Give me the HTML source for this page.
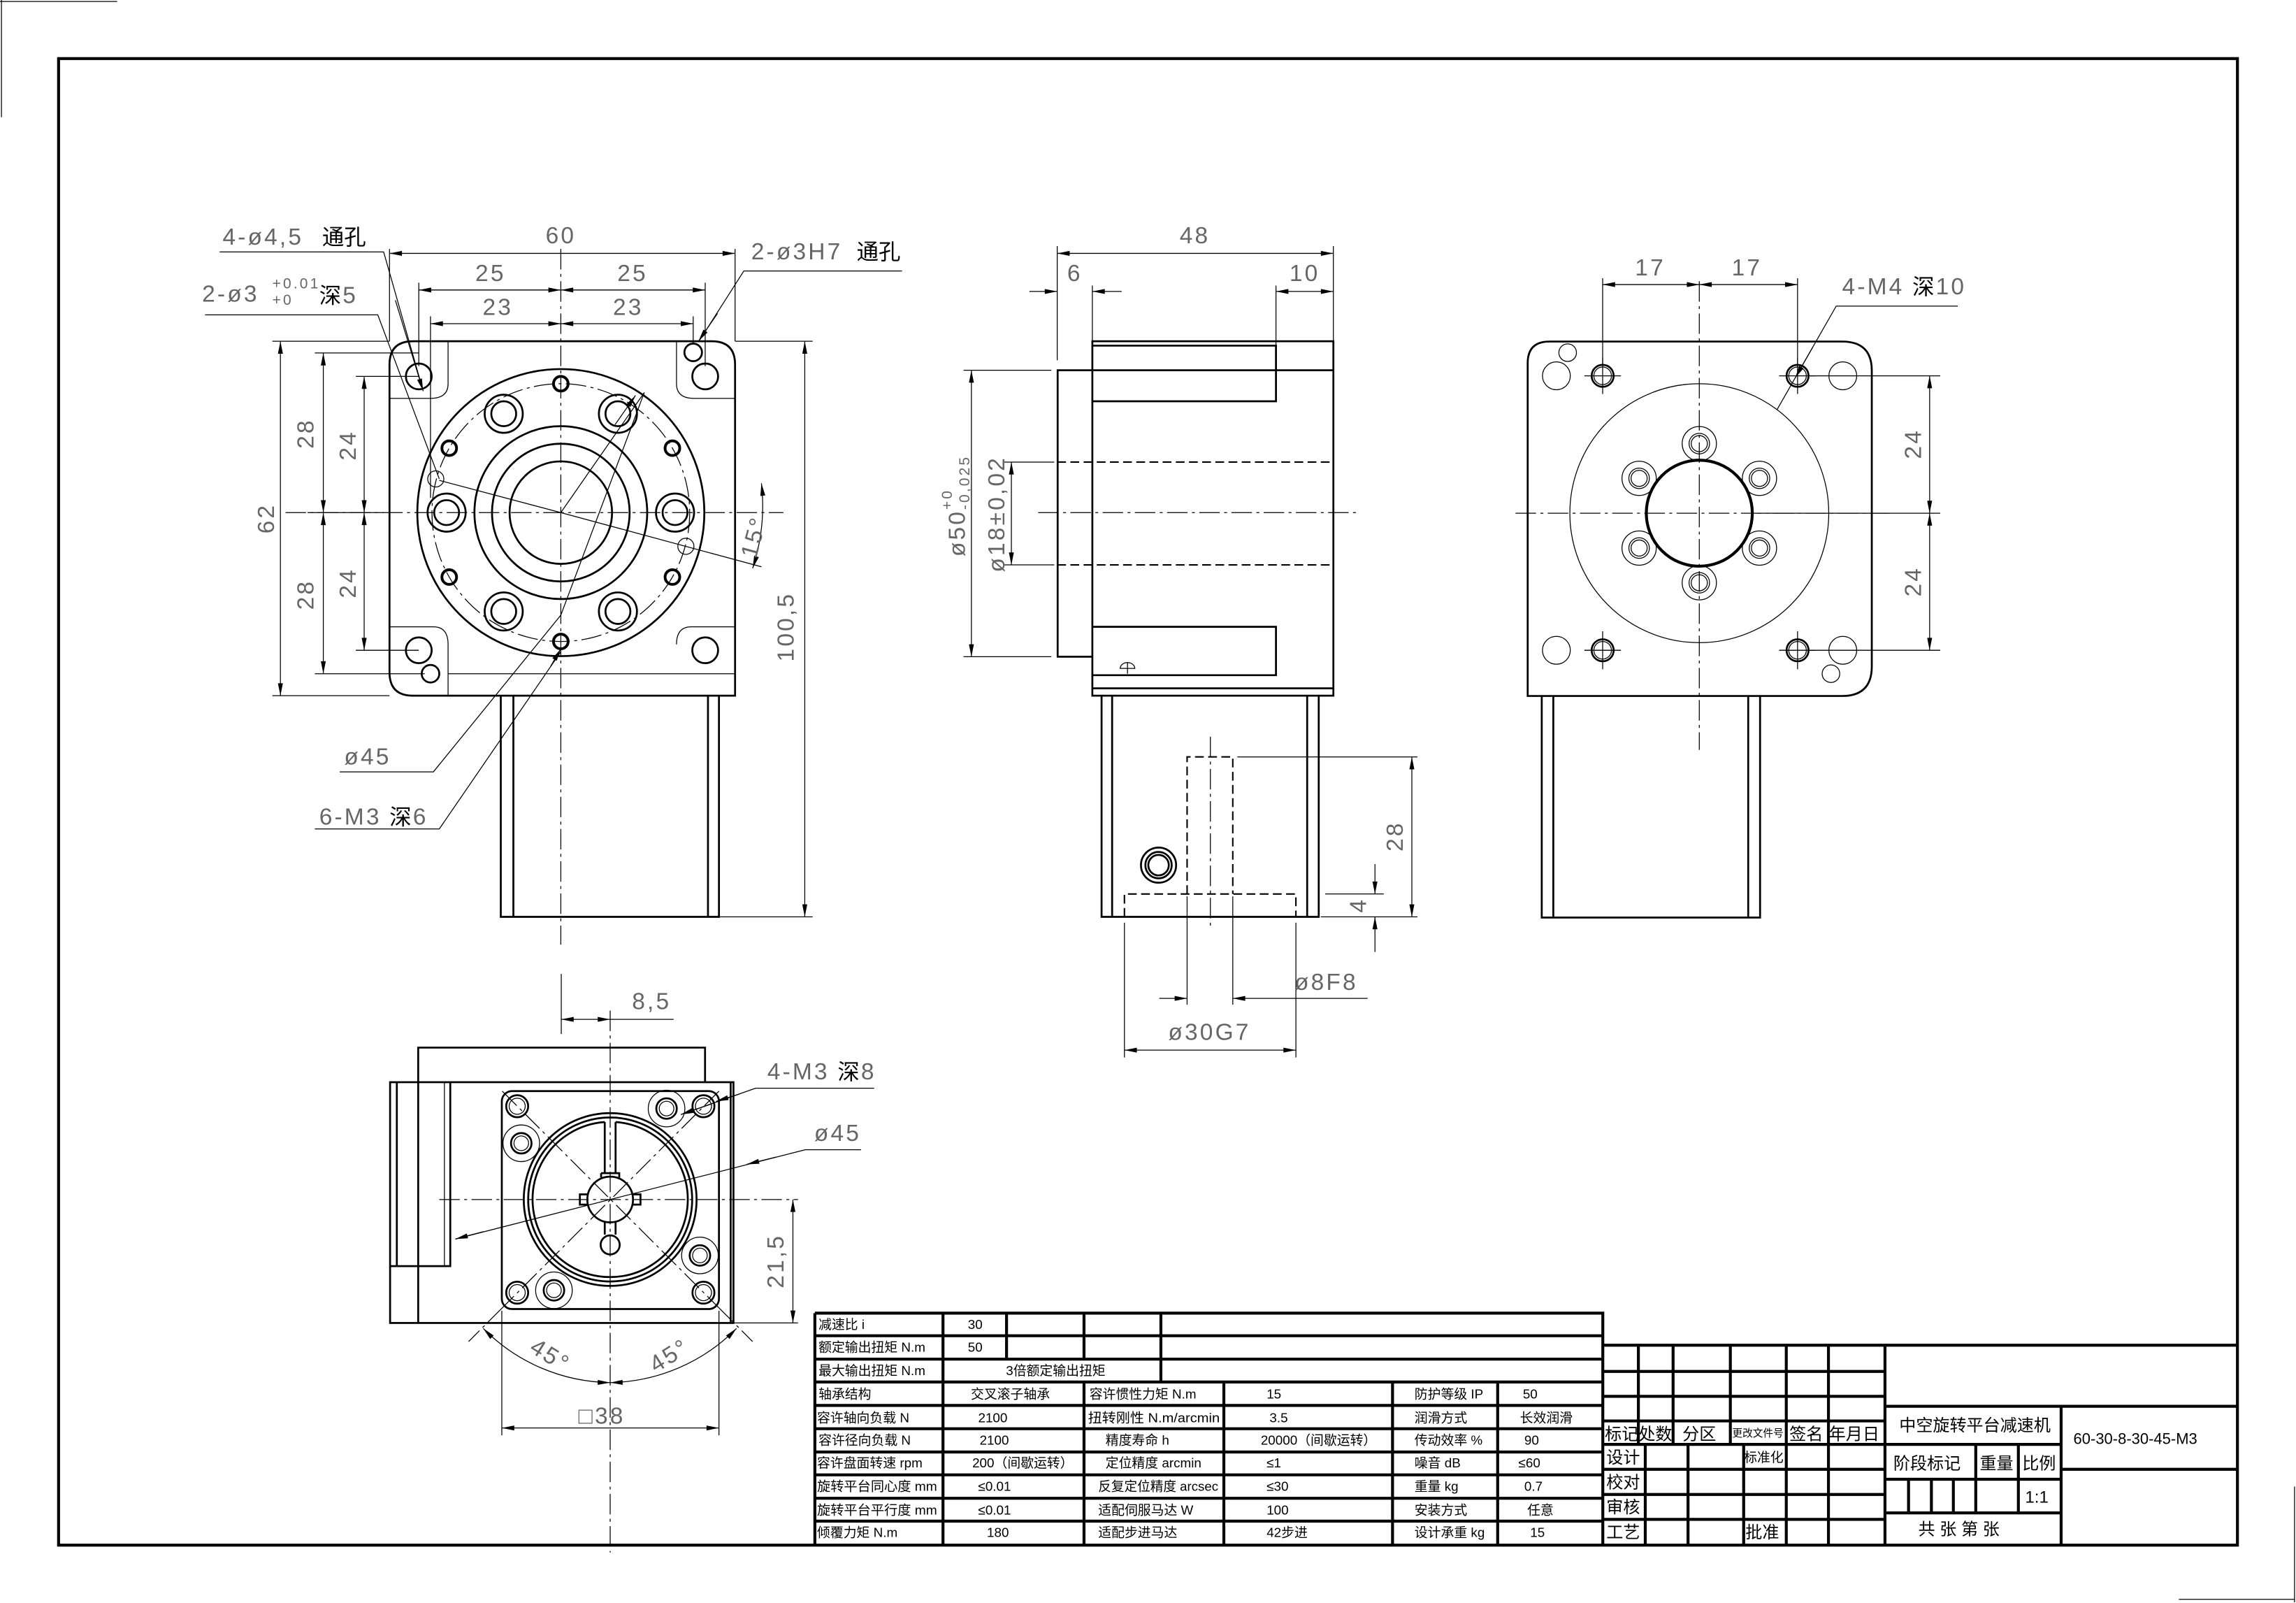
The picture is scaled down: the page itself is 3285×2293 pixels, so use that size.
<!DOCTYPE html>
<html><head><meta charset="utf-8"><style>
html,body{margin:0;padding:0;background:#fff}
svg{display:block}
.k{stroke:#000;fill:none;stroke-width:1.3}
.t{stroke:#000;fill:none;stroke-width:0.6}
.c{stroke:#000;fill:none;stroke-width:0.6;stroke-dasharray:14 3 2 3}
.h{stroke:#000;fill:none;stroke-width:1;stroke-dasharray:6 3}
.b{stroke:#000;fill:none;stroke-width:2}
.d{font-family:"Liberation Sans","Noto Sans CJK SC",sans-serif;font-size:16px;fill:#666;letter-spacing:1.5px}
.z{font-family:"Liberation Sans","Noto Sans CJK SC",sans-serif;font-size:15px;fill:#000}
.s{font-family:"Liberation Sans","Noto Sans CJK SC",sans-serif;font-size:9px;fill:#000}
.m{font-family:"Liberation Sans","Noto Sans CJK SC",sans-serif;font-size:11.5px;fill:#000}
</style></head><body>
<svg width="3285" height="2293" viewBox="0 0 1568 1094.5" xmlns="http://www.w3.org/2000/svg">
<defs><marker id="a" viewBox="0 0 10 4" refX="10" refY="2" markerWidth="10" markerHeight="3.4" markerUnits="userSpaceOnUse" orient="auto-start-reverse"><path d="M0,0L10,2L0,4z" fill="#000"/></marker></defs>
<rect width="1568" height="1094.5" fill="#fff"/>
<path class="t" d="M1,0V80M0,1H80M1488,1092H1567M1567,1015V1094"/>
<rect x="40" y="40" width="1488" height="1015" class="b"/>

<!-- FRONT VIEW -->
<path class="k" d="M282,233H486Q502,233 502,249V475H282Q266,475 266,459V249Q266,233 282,233Z"/>
<path class="t" d="M306,233V262Q306,272 294,272H266M462,233V262Q462,272 474,272H502M266,428H296Q306,428 306,440V475M306,460H502M502,428H472Q462,428 462,440"/>
<g class="k">
<circle cx="286" cy="257" r="8.8"/><circle cx="481.6" cy="257" r="8.8"/><circle cx="286" cy="444" r="8.8"/><circle cx="481.6" cy="444" r="8.8"/>
<circle cx="473.4" cy="240.6" r="6"/><circle cx="294" cy="460" r="6"/>
<circle cx="383" cy="350" r="98"/><circle cx="383" cy="350" r="59"/><circle cx="383" cy="350" r="47"/><circle cx="383" cy="350" r="35"/>
<circle cx="461" cy="350" r="13"/><circle cx="461" cy="350" r="8.5"/>
<circle cx="422" cy="282.5" r="13"/><circle cx="422" cy="282.5" r="8.5"/>
<circle cx="344" cy="282.5" r="13"/><circle cx="344" cy="282.5" r="8.5"/>
<circle cx="305" cy="350" r="13"/><circle cx="305" cy="350" r="8.5"/>
<circle cx="344" cy="417.5" r="13"/><circle cx="344" cy="417.5" r="8.5"/>
<circle cx="422" cy="417.5" r="13"/><circle cx="422" cy="417.5" r="8.5"/>
<circle cx="297.6" cy="327" r="5.5" class="t"/><circle cx="468.4" cy="373" r="5.5" class="t"/>
</g>
<g class="k" style="stroke-width:1.9">
<circle cx="459.2" cy="306" r="5"/><circle cx="383" cy="262" r="5"/><circle cx="306.8" cy="306" r="5"/><circle cx="306.8" cy="394" r="5"/><circle cx="383" cy="438" r="5"/><circle cx="459.2" cy="394" r="5"/>
</g>
<circle cx="383" cy="350" r="88" class="c"/>
<path class="k" d="M342,475V626H491V475M350.6,475V626M483.5,475V626"/>
<path class="c" d="M383,170V645M195,350H535"/>
<path class="t" d="M383,350L300,328M383,350L520,387M383,350L440,268"/>
<path class="t" d="M266,170V233M502,170V233M286,193V250M481.6,193V250M294,216V340M473.4,216V235"/>
<path class="t" marker-start="url(#a)" marker-end="url(#a)" d="M266,173H502"/>
<path class="t" marker-start="url(#a)" marker-end="url(#a)" d="M286,198H383"/>
<path class="t" marker-start="url(#a)" marker-end="url(#a)" d="M383,198H481.6"/>
<path class="t" marker-start="url(#a)" marker-end="url(#a)" d="M294,221H383"/>
<path class="t" marker-start="url(#a)" marker-end="url(#a)" d="M383,221H473.4"/>
<text class="d" x="383" y="166" text-anchor="middle">60</text>
<text class="d" x="335" y="192" text-anchor="middle">25</text>
<text class="d" x="432" y="192" text-anchor="middle">25</text>
<text class="d" x="340" y="215" text-anchor="middle">23</text>
<text class="d" x="429" y="215" text-anchor="middle">23</text>
<path class="t" d="M186,233H266M215,241H286M243,257H286M215,460H290M243,444H286M186,475H266M210,350H262M502,233H555M491,626H555"/>
<path class="t" marker-start="url(#a)" marker-end="url(#a)" d="M191.5,233V475"/>
<path class="t" marker-start="url(#a)" marker-end="url(#a)" d="M220.8,241V350"/>
<path class="t" marker-start="url(#a)" marker-end="url(#a)" d="M220.8,350V460"/>
<path class="t" marker-start="url(#a)" marker-end="url(#a)" d="M248.7,257V350"/>
<path class="t" marker-start="url(#a)" marker-end="url(#a)" d="M248.7,350V444"/>
<path class="t" marker-start="url(#a)" marker-end="url(#a)" d="M549.6,233V626"/>
<text class="d" transform="translate(187,354) rotate(-90)" text-anchor="middle">62</text>
<text class="d" transform="translate(214,296) rotate(-90)" text-anchor="middle">28</text>
<text class="d" transform="translate(214,406) rotate(-90)" text-anchor="middle">28</text>
<text class="d" transform="translate(243,304) rotate(-90)" text-anchor="middle">24</text>
<text class="d" transform="translate(243,398) rotate(-90)" text-anchor="middle">24</text>
<text class="d" transform="translate(542,428) rotate(-90)" text-anchor="middle">100,5</text>
<path class="t" marker-start="url(#a)" marker-end="url(#a)" d="M520,330A137,137 0 0 1 514,388"/>
<text class="d" transform="translate(520,368) rotate(-75)" text-anchor="middle">15°</text>
<path class="t" d="M150,172H262L289,267"/><path class="t" marker-end="url(#a)" d="M270,205L289,267"/>
<text class="d" x="152" y="167">4-ø4,5</text><text class="z" x="220" y="167">通孔</text>
<path class="t" d="M140,215H258L300,327"/>
<text class="d" x="138" y="206">2-ø3</text><text class="d" x="186" y="197" style="font-size:10px">+0.01</text><text class="d" x="186" y="208" style="font-size:10px">+0</text><text class="z" x="218" y="207">深</text><text class="d" x="234" y="207">5</text>
<path class="t" d="M616,185H508L478,232"/><path class="t" marker-end="url(#a)" d="M490,214L477,233"/>
<text class="d" x="513" y="177">2-ø3H7</text><text class="z" x="585" y="177">通孔</text>
<path class="t" d="M232,527H296L383,420L440,268"/><path class="t" marker-end="url(#a)" d="M420,290L434,270"/>
<text class="d" x="235" y="522">ø45</text>
<path class="t" d="M215,566H300L383,445"/><path class="t" marker-end="url(#a)" d="M376,455L383,443"/>
<text class="d" x="218" y="563">6-M3</text><text class="z" x="266" y="563">深</text><text class="d" x="282" y="563">6</text>

<!-- SIDE VIEW -->
<rect x="746" y="233" width="164.6" height="242" class="k"/>
<path class="k" d="M746,252.8H722.3V448.4H746M746,252.8H910.6"/>
<path class="k" d="M746,236H871.4V274H746M746,428H871.4V461H746M746,470H910.6"/>
<path class="t" d="M871.4,233V240"/>
<path class="h" d="M722,315.5H910M722,385.7H910"/>
<path class="c" d="M709,350H927"/>
<path class="t" d="M765,456.4A5,4 0 0 1 775,456.4ZM770,452V460"/>
<path class="k" d="M752.3,475V626H900.6V475M759.5,475V626M892.7,475V626"/>
<path class="h" d="M810.7,610.4V516.8H841.9V610.4M767.9,626V610.4H885V626"/>
<path class="c" d="M826.6,503V632"/>
<circle cx="791.2" cy="590.7" r="12" class="k"/><circle cx="791.2" cy="590.7" r="9" class="k"/><circle cx="791.2" cy="590.7" r="7" class="k"/>
<path class="t" d="M722,168V246M746,195V233M871.4,195V233M910.6,168V233"/>
<path class="t" marker-start="url(#a)" marker-end="url(#a)" d="M722,173H910.6"/>
<path class="t" marker-end="url(#a)" d="M703,199H722"/><path class="t" marker-start="url(#a)" d="M746,199H766"/>
<path class="t" marker-start="url(#a)" marker-end="url(#a)" d="M871.4,199H910.6"/>
<text class="d" x="816" y="166" text-anchor="middle">48</text>
<text class="d" x="734" y="192" text-anchor="middle">6</text>
<text class="d" x="891" y="192" text-anchor="middle">10</text>
<path class="t" d="M658,252.8H718M658,448.4H718M685,315.5H720M685,385.7H720"/>
<path class="t" marker-start="url(#a)" marker-end="url(#a)" d="M663.4,252.8V448.4"/>
<path class="t" marker-start="url(#a)" marker-end="url(#a)" d="M690.7,315.5V385.7"/>
<text class="d" transform="translate(659,380) rotate(-90)">ø50</text>
<text class="d" transform="translate(662,348) rotate(-90)" style="font-size:10px">-0,025</text>
<text class="d" transform="translate(650,348) rotate(-90)" style="font-size:10px">+0</text>
<text class="d" transform="translate(686,351) rotate(-90)" text-anchor="middle">ø18±0,02</text>
<path class="t" d="M845,516.8H968M905,610.4H945M902,626H968"/>
<path class="t" marker-start="url(#a)" marker-end="url(#a)" d="M964.2,516.8V626"/>
<path class="t" marker-end="url(#a)" d="M939,590V610.4"/><path class="t" marker-start="url(#a)" d="M939,626V650"/>
<text class="d" transform="translate(958,571) rotate(-90)" text-anchor="middle">28</text>
<text class="d" transform="translate(933,618) rotate(-90)" text-anchor="middle">4</text>
<path class="t" d="M810.7,612V686M841.9,612V686M767.9,630V722M885,630V722"/>
<path class="t" marker-end="url(#a)" d="M791.7,681.7H810.7"/><path class="t" marker-start="url(#a)" d="M841.9,681.7H934"/>
<path class="t" marker-start="url(#a)" marker-end="url(#a)" d="M767.9,717H885"/>
<text class="d" x="884" y="676">ø8F8</text>
<text class="d" x="826" y="710" text-anchor="middle">ø30G7</text>

<!-- RIGHT VIEW -->
<path class="k" d="M1058,233.2H1258Q1278.3,233.2 1278.3,253V455Q1278.3,475.2 1258,475.2H1043.3V248Q1043.3,233.2 1058,233.2Z"/>
<circle cx="1160.5" cy="350.4" r="88.4" class="t"/>
<circle cx="1160.5" cy="350.4" r="36.2" class="k" style="stroke-width:2"/>
<g class="t">
<circle cx="1201.6" cy="326.6" r="11.7"/><circle cx="1201.6" cy="326.6" r="7"/><circle cx="1201.6" cy="326.6" r="5.5"/>
<circle cx="1160.5" cy="302.9" r="11.7"/><circle cx="1160.5" cy="302.9" r="7"/><circle cx="1160.5" cy="302.9" r="5.5"/>
<circle cx="1119.4" cy="326.6" r="11.7"/><circle cx="1119.4" cy="326.6" r="7"/><circle cx="1119.4" cy="326.6" r="5.5"/>
<circle cx="1119.4" cy="374.2" r="11.7"/><circle cx="1119.4" cy="374.2" r="7"/><circle cx="1119.4" cy="374.2" r="5.5"/>
<circle cx="1160.5" cy="397.9" r="11.7"/><circle cx="1160.5" cy="397.9" r="7"/><circle cx="1160.5" cy="397.9" r="5.5"/>
<circle cx="1201.6" cy="374.2" r="11.7"/><circle cx="1201.6" cy="374.2" r="7"/><circle cx="1201.6" cy="374.2" r="5.5"/>
</g>
<g class="k">
<circle cx="1094.5" cy="256.6" r="7.5"/><circle cx="1227.6" cy="256.6" r="7.5"/><circle cx="1094.5" cy="444" r="7.5"/><circle cx="1227.6" cy="444" r="7.5"/>
<circle cx="1062.9" cy="256.6" r="9.5" class="t"/><circle cx="1258.5" cy="256.6" r="9.5" class="t"/><circle cx="1062.9" cy="444" r="9.5" class="t"/><circle cx="1258.5" cy="444" r="9.5" class="t"/>
<circle cx="1070.6" cy="240.8" r="6" class="t"/><circle cx="1250.4" cy="460" r="6" class="t"/>
</g>
<g class="t"><circle cx="1094.5" cy="256.6" r="6"/><circle cx="1227.6" cy="256.6" r="6"/><circle cx="1094.5" cy="444" r="6"/><circle cx="1227.6" cy="444" r="6"/></g>
<path class="t" d="M1082,256.6H1107M1094.5,244V269M1082,444H1107M1094.5,431V457M1215,256.6H1240M1227.6,244V269M1215,444H1240M1227.6,431V457"/>
<path class="c" d="M1160.5,192V512M1035,350.4H1290"/>
<path class="k" d="M1052.9,475.2V626.5H1202V475.2M1060.8,475.2V626.5M1193.9,475.2V626.5"/>
<path class="t" d="M1094.5,190V250M1227.6,190V250M1235,256.6H1325M1235,444H1325M1200,350.4H1325"/>
<path class="t" marker-start="url(#a)" marker-end="url(#a)" d="M1094.5,194.3H1160.5"/>
<path class="t" marker-start="url(#a)" marker-end="url(#a)" d="M1160.5,194.3H1227.6"/>
<path class="t" marker-start="url(#a)" marker-end="url(#a)" d="M1317.8,256.6V350.4"/>
<path class="t" marker-start="url(#a)" marker-end="url(#a)" d="M1317.8,350.4V444"/>
<text class="d" x="1127" y="188" text-anchor="middle">17</text>
<text class="d" x="1193" y="188" text-anchor="middle">17</text>
<text class="d" transform="translate(1312,303) rotate(-90)" text-anchor="middle">24</text>
<text class="d" transform="translate(1312,397) rotate(-90)" text-anchor="middle">24</text>
<path class="t" d="M1337,209H1254L1213.7,279.5"/><path class="t" marker-end="url(#a)" d="M1238,237L1226,258"/>
<text class="d" x="1258" y="201">4-M4</text><text class="z" x="1306" y="201">深</text><text class="d" x="1322" y="201">10</text>

<!-- BOTTOM VIEW -->
<path class="k" d="M285.6,738.9V715.3H481.5V738.9"/>
<rect x="266.4" y="738.9" width="234.5" height="164.4" class="k"/>
<path class="k" d="M285.6,738.9V903.3M271,738.9V864.5H307.5V738.9M266.4,864.5H271M499,738.9V903.3"/>
<path class="t" d="M303.5,738.9V864.5"/>
<rect x="342.7" y="745" width="148.3" height="148.8" rx="7" class="k"/>
<circle cx="416.7" cy="819" r="59" class="k"/><circle cx="416.7" cy="819" r="56" class="k"/>
<path class="k" d="M413,766.1A53,53 0 1 0 420.4,766.1M413,766.1V801M420.4,766.1V801M410.5,801H422.9V804M410.5,801V804"/>
<circle cx="416.7" cy="819" r="15.6" class="k"/>
<path class="k" d="M401.1,815.5H396V822.5H401.1M432.3,815.5H437.4V822.5H432.3M413,834.6V843M420.4,834.6V843"/>
<circle cx="416.7" cy="850" r="6.5" class="k"/>
<g class="k">
<circle cx="353.2" cy="755.3" r="7.5"/><circle cx="480.4" cy="755.3" r="7.5"/><circle cx="353.2" cy="882.6" r="7.5"/><circle cx="480.4" cy="882.6" r="7.5"/>
<circle cx="455.2" cy="756.9" r="12.5" class="t"/><circle cx="455.2" cy="756.9" r="7"/><circle cx="455.2" cy="756.9" r="5" class="t"/>
<circle cx="356" cy="780.6" r="12.5" class="t"/><circle cx="356" cy="780.6" r="7"/><circle cx="356" cy="780.6" r="5" class="t"/>
<circle cx="478" cy="857.2" r="12.5" class="t"/><circle cx="478" cy="857.2" r="7"/><circle cx="478" cy="857.2" r="5" class="t"/>
<circle cx="378.3" cy="881" r="12.5" class="t"/><circle cx="378.3" cy="881" r="7"/><circle cx="378.3" cy="881" r="5" class="t"/>
</g>
<g class="t"><circle cx="353.2" cy="755.3" r="5.5"/><circle cx="480.4" cy="755.3" r="5.5"/><circle cx="353.2" cy="882.6" r="5.5"/><circle cx="480.4" cy="882.6" r="5.5"/></g>
<path class="c" d="M416.7,690V1060M300,819H545M343,745L491,893M491,745L343,893"/>
<path class="c" d="M343,893L320,916M491,893L514,916"/>
<path class="t" d="M383.3,665V706"/>
<path class="t" marker-start="url(#a)" marker-end="url(#a)" d="M383.3,696H416.7"/><path class="t" d="M416.7,696H460"/>
<text class="d" x="445" y="689" text-anchor="middle">8,5</text>
<path class="t" d="M500,903.3H545"/>
<path class="t" marker-start="url(#a)" marker-end="url(#a)" d="M541.5,819V903.3"/>
<text class="d" transform="translate(535,861) rotate(-90)" text-anchor="middle">21,5</text>
<path class="t" d="M342.7,895V980M491,895V980"/>
<path class="t" marker-start="url(#a)" marker-end="url(#a)" d="M342.7,975H491"/>
<text class="d" x="411" y="972" text-anchor="middle">□38</text>
<path class="t" marker-start="url(#a)" marker-end="url(#a)" d="M330,907A124,124 0 0 0 416.7,944"/>
<path class="t" marker-start="url(#a)" marker-end="url(#a)" d="M503,907A124,124 0 0 1 416.7,944"/>
<text class="d" transform="translate(373,930) rotate(32)" text-anchor="middle">45°</text>
<text class="d" transform="translate(460,930) rotate(-32)" text-anchor="middle">45°</text>
<path class="t" d="M597,743H516L465,761"/><path class="t" marker-end="url(#a)" d="M488,753L465,761"/><path class="t" marker-end="url(#a)" d="M505,747L489,752"/>
<text class="d" x="524" y="737">4-M3</text><text class="z" x="572" y="737">深</text><text class="d" x="588" y="737">8</text>
<path class="t" d="M588,785H550L311,846"/><path class="t" marker-end="url(#a)" d="M530,790L510,795"/><path class="t" marker-end="url(#a)" d="M330,841L311,846"/>
<text class="d" x="556" y="779">ø45</text>

<!-- PARAM TABLE -->
<g class="b">
<path d="M556.5,896.6H1094.6V1055M556.5,896.6V1055"/>
<path d="M556.5,912H1094.6M556.5,928H1094.6M556.5,943.6H1094.6M556.5,959.6H1094.6M556.5,975.5H1094.6M556.5,991.4H1094.6M556.5,1007H1094.6M556.5,1023H1094.6M556.5,1038.6H1094.6"/>
<path d="M644,896.6V1055M687.4,896.6V928M740.3,896.6V928M792.8,896.6V943.6M740.3,943.6V1055M835.8,943.6V1055M951,943.6V1055M1022.8,943.6V1055"/>
</g>
<g class="s">
<text x="559" y="907.5">减速比 i</text><text x="661" y="907.5">30</text>
<text x="559" y="923">额定输出扭矩 N.m</text><text x="661" y="923">50</text>
<text x="559" y="939">最大输出扭矩 N.m</text><text x="687" y="939">3倍额定输出扭矩</text>
<text x="559" y="955">轴承结构</text><text x="663" y="955">交叉滚子轴承</text><text x="744" y="955">容许惯性力矩 N.m</text><text x="865" y="955">15</text><text x="966" y="955">防护等级 IP</text><text x="1040" y="955">50</text>
<text x="558" y="971">容许轴向负载 N</text><text x="668" y="971">2100</text><text x="743" y="971" textLength="90" lengthAdjust="spacingAndGlyphs">扭转刚性 N.m/arcmin</text><text x="867" y="971">3.5</text><text x="966" y="971">润滑方式</text><text x="1038" y="971">长效润滑</text>
<text x="559" y="986.5">容许径向负载 N</text><text x="669" y="986.5">2100</text><text x="755" y="986.5">精度寿命 h</text><text x="861" y="986.5">20000（间歇运转）</text><text x="966" y="986.5">传动效率 %</text><text x="1041" y="986.5">90</text>
<text x="558" y="1002">容许盘面转速 rpm</text><text x="664" y="1002">200（间歇运转）</text><text x="755" y="1002">定位精度 arcmin</text><text x="865" y="1002">≤1</text><text x="966" y="1002">噪音 dB</text><text x="1037" y="1002">≤60</text>
<text x="558" y="1018" textLength="82" lengthAdjust="spacingAndGlyphs">旋转平台同心度 mm</text><text x="668" y="1018">≤0.01</text><text x="750" y="1018" textLength="82" lengthAdjust="spacingAndGlyphs">反复定位精度 arcsec</text><text x="865" y="1018">≤30</text><text x="966" y="1018">重量 kg</text><text x="1041" y="1018">0.7</text>
<text x="558" y="1034" textLength="82" lengthAdjust="spacingAndGlyphs">旋转平台平行度 mm</text><text x="668" y="1034">≤0.01</text><text x="750" y="1034">适配伺服马达 W</text><text x="865" y="1034">100</text><text x="966" y="1034">安装方式</text><text x="1043" y="1034">任意</text>
<text x="558" y="1049.5">倾覆力矩 N.m</text><text x="674" y="1049.5">180</text><text x="750" y="1049.5">适配步进马达</text><text x="865" y="1049.5">42步进</text><text x="966" y="1049.5">设计承重 kg</text><text x="1045" y="1049.5">15</text>
</g>

<!-- TITLE BLOCK -->
<g class="b">
<path d="M1095.4,918.5H1528"/>
<path d="M1095.4,936.4H1287.3M1095.4,953.4H1287.3M1095.4,970.2H1287.3M1095.4,986.2H1407.6M1095.4,1003.2H1287.3M1095.4,1020.4H1287.3M1095.4,1037.4H1287.3"/>
<path d="M1118.9,918.5V986.2M1142.6,918.5V986.2M1181.7,918.5V986.2M1219.9,918.5V1055M1248.7,918.5V1055M1287.3,918.5V1055"/>
<path d="M1123.6,986.2V1055M1152.8,986.2V1055M1190.8,986.2V1055"/>
<path d="M1287.3,960.2H1528M1407.6,960.2V1055M1407.6,1003.2H1528M1287.3,1010H1407.6M1287.3,1033H1407.6M1349.3,986.2V1033M1378.4,986.2V1033M1303.4,1010V1033M1319,1010V1033M1334,1010V1033"/>
</g>
<g class="m">
<text x="1096" y="983">标记</text><text x="1119" y="983">处数</text><text x="1149" y="983">分区</text><text x="1183" y="981" style="font-size:7px">更改文件号</text><text x="1222" y="983">签名</text><text x="1249" y="983">年月日</text>
<text x="1097" y="999">设计</text><text x="1191" y="998" style="font-size:9px">标准化</text>
<text x="1097" y="1016">校对</text>
<text x="1097" y="1033">审核</text>
<text x="1097" y="1050">工艺</text><text x="1192" y="1050">批准</text>
<text x="1297" y="977">中空旋转平台减速机</text>
<text x="1416" y="986" style="font-size:10.5px">60-30-8-30-45-M3</text>
<text x="1293" y="1003">阶段标记</text><text x="1352" y="1003">重量</text><text x="1381" y="1003">比例</text>
<text x="1383" y="1026">1:1</text>
<text x="1310" y="1048">共  张 第  张</text>
</g>
</svg>
</body></html>
